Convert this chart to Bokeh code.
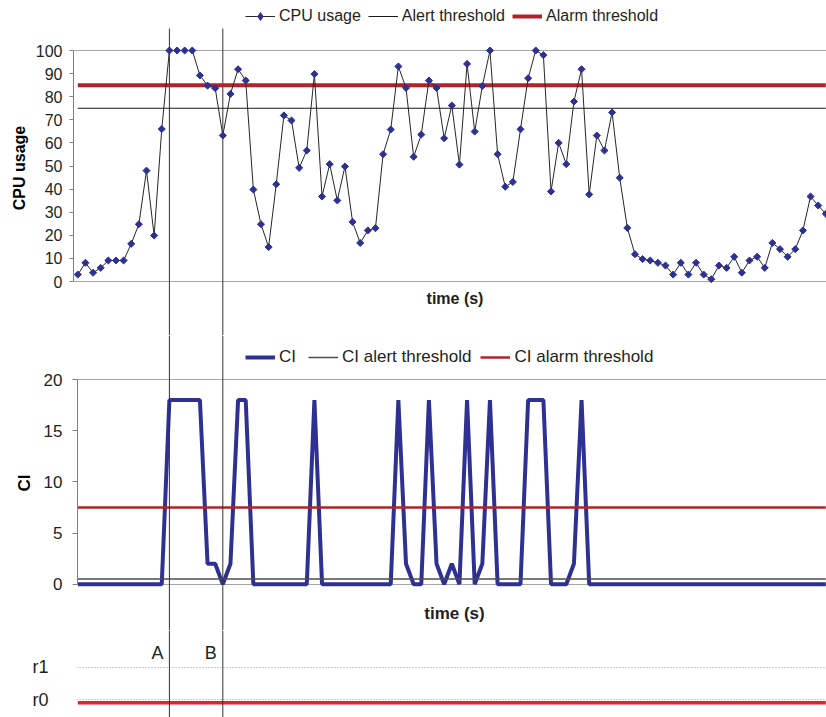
from math import pi
from bokeh.plotting import figure
from bokeh.models import Range1d, FixedTicker, Span, Label, Legend, LegendItem
from bokeh.layouts import column
from bokeh.embed import file_html
from bokeh.resources import INLINE

# ---------------- data ----------------
CPU_USAGE = [3.0, 8.1, 3.8, 5.9, 9.1, 9.1, 9.1, 16.3, 24.8, 48.0, 19.9, 66.0, 100, 100, 100, 100, 89.2, 84.8, 83.7, 63.2,
             81.2, 91.9, 87.0, 39.8, 24.8, 14.9, 42.1, 71.9, 69.7, 49.2, 56.7, 89.8, 36.8, 50.8, 35.1, 49.8, 25.8, 16.7, 22.1, 23.1,
             55.1, 65.8, 93.1, 83.8, 54.0, 63.6, 87.0, 83.8, 62.0, 76.2, 50.6, 94.2, 64.9, 84.6, 100, 55.1, 41.0, 43.1, 65.9, 88.0,
             100, 98.0, 39.0, 60.0, 50.8, 77.9, 91.9, 37.7, 63.2, 56.7, 73.2, 44.9, 23.2, 11.8, 9.7, 9.1, 8.1, 6.9, 3.0, 8.1,
             3.0, 8.1, 3.0, 1.0, 6.9, 5.9, 10.7, 3.8, 9.1, 10.7, 5.9, 16.7, 14.0, 10.7, 14.0, 22.1, 36.8, 32.9, 29.3]
CI = [0, 0, 0, 0, 0, 0, 0, 0, 0, 0, 0, 0, 18, 18, 18, 18, 18, 2, 2, 0,
      2, 18, 18, 0, 0, 0, 0, 0, 0, 0, 0, 18, 0, 0, 0, 0, 0, 0, 0, 0,
      0, 0, 18, 2, 0, 0, 18, 2, 0, 2, 0, 18, 0, 2, 18, 0, 0, 0, 0, 18,
      18, 18, 0, 0, 0, 2, 18, 0, 0, 0, 0, 0, 0, 0, 0, 0, 0, 0, 0, 0,
      0, 0, 0, 0, 0, 0, 0, 0, 0, 0, 0, 0, 0, 0, 0, 0, 0, 0, 0]
TIME = list(range(len(CPU_USAGE)))
STATE = ["r0"] * len(CPU_USAGE)
STATE_LEVELS = ["r0", "r1"]
EVENT_TIMES = [12, 19]
EVENT_NAMES = ["A", "B"]
CPU_TICKS = [0, 10, 20, 30, 40, 50, 60, 70, 80, 90, 100]
CI_TICKS = [0, 5, 10, 15, 20]
CPU_ALERT, CPU_ALARM = 75, 85
CI_ALERT, CI_ALARM = 0.5, 7.5

# ---------------- style / layout ----------------
FONT = "Liberation Sans"
TXT = "#231F20"
NAVY = "#2E3192"
DARKRED = "#B3222B"
RED = "#E8202A"
GRID = "#A6A6A6"
AXIS = "#7F7F7F"
VLINE = "#333333"

W = 826
RIGHT = 826
X_FIRST = 77.3
X_LAST = 825.3
STEP = (X_LAST - X_FIRST) / (len(TIME) - 1)


def x_at(px):
    return (px - X_FIRST) / STEP


def y_map(v0, p0, v1, p1):
    k = (p0 - p1) / (v1 - v0)
    return lambda px: v0 + (p0 - px) / k


def make_panel(height, left, top_px, bottom_px, fy, spans=True):
    p = figure(width=W, height=height,
               x_range=Range1d(x_at(left), x_at(RIGHT)),
               y_range=Range1d(fy(bottom_px), fy(top_px)),
               x_axis_location=None, toolbar_location=None, output_backend="svg",
               min_border_left=left, min_border_right=0,
               min_border_top=0, min_border_bottom=0)
    p.outline_line_color = None
    p.xgrid.grid_line_color = None
    p.background_fill_color = "white"
    p.border_fill_color = "white"
    if spans:
        for t in EVENT_TIMES:
            p.add_layout(Span(location=t, dimension="height", line_color=VLINE, line_width=1))
    return p


def style_axis(ax, ticks, bounds, size, tick_out, standoff, label, label_standoff):
    ax.ticker = FixedTicker(ticks=ticks)
    ax.bounds = bounds
    ax.axis_line_color = AXIS
    ax.major_tick_line_color = AXIS
    ax.major_tick_out = tick_out
    ax.major_tick_in = 0
    ax.minor_tick_line_color = None
    ax.major_label_text_font = FONT
    ax.major_label_text_font_size = size
    ax.major_label_text_color = TXT
    ax.major_label_standoff = standoff
    ax.axis_label = label
    ax.axis_label_text_font = FONT
    ax.axis_label_text_font_size = size
    ax.axis_label_text_font_style = "bold"
    ax.axis_label_text_color = "black"
    ax.axis_label_standoff = label_standoff


def make_legend(items, loc, size, spacing):
    lg = Legend(items=items, location=loc, orientation="horizontal")
    lg.glyph_width = 30
    lg.glyph_height = 20
    lg.label_height = 20
    lg.label_standoff = 4
    lg.spacing = spacing
    lg.padding = 0
    lg.margin = 0
    lg.border_line_color = None
    lg.background_fill_alpha = 0
    lg.inactive_fill_alpha = 0
    lg.label_text_font = FONT
    lg.label_text_font_size = size
    lg.label_text_color = TXT
    return lg


# ---------------- CPU panel ----------------
f1 = y_map(0, 281, 100, 50)
P1_TOP, P1_BOT = 0, 335
p1 = make_panel(P1_BOT - P1_TOP, 73, P1_TOP, P1_BOT, f1, spans=False)
style_axis(p1.yaxis[0], CPU_TICKS, (0, 100), "16px", 4, 7, "CPU usage", 5)
p1.ygrid.ticker = FixedTicker(ticks=[CPU_TICKS[0], CPU_TICKS[-1]])
p1.ygrid.grid_line_color = GRID
p1.segment(x0=EVENT_TIMES, y0=[f1(28)] * len(EVENT_TIMES),
           x1=EVENT_TIMES, y1=[f1(P1_BOT + 2)] * len(EVENT_TIMES),
           line_color=VLINE, line_width=1)

r_alert = p1.line([TIME[0], TIME[-1]], [CPU_ALERT, CPU_ALERT], line_color="#1A1A1A", line_width=1)
r_alarm = p1.line([TIME[0], TIME[-1]], [CPU_ALARM, CPU_ALARM], line_color=DARKRED, line_width=4)
r_cpu_l = p1.line(TIME, CPU_USAGE, line_color="#262626", line_width=1)
r_cpu_m = p1.scatter(TIME, CPU_USAGE, marker="square", size=5, angle=pi / 4,
                     fill_color=NAVY, line_color=NAVY, line_width=1)
# hidden twin used only for the legend key (legend keys ignore marker angle)
r_cpu_key = p1.scatter(TIME, CPU_USAGE, marker="diamond", size=9,
                       fill_color=NAVY, line_color=NAVY, line_width=1, visible=False)
lg1 = make_legend([LegendItem(label="CPU usage", renderers=[r_cpu_l, r_cpu_key]),
                   LegendItem(label="Alert threshold", renderers=[r_alert]),
                   LegendItem(label="Alarm threshold", renderers=[r_alarm])],
                  (245 - 73, (P1_BOT - P1_TOP) - 6 - 20), "16px", 7)
p1.add_layout(lg1, "center")
p1.add_layout(Label(x=x_at(454.5), y=f1(298), text="time (s)", text_font=FONT,
                    text_font_size="16px", text_font_style="bold", text_color=TXT,
                    text_align="center", text_baseline="middle"))

# ---------------- CI panel ----------------
f2 = y_map(0, 583.7, 20, 379)
P2_TOP, P2_BOT = 335, 630
p2 = make_panel(P2_BOT - P2_TOP, 77, P2_TOP, P2_BOT, f2)
style_axis(p2.yaxis[0], CI_TICKS, (0, 20), "17px", 5, 10, "CI", 7)
p2.ygrid.ticker = FixedTicker(ticks=[CI_TICKS[0], CI_TICKS[-1]])
p2.ygrid.grid_line_color = GRID

r_ci = p2.line(TIME, CI, line_color=NAVY, line_width=4)
r_ci_alert = p2.line([TIME[0], TIME[-1]], [CI_ALERT, CI_ALERT], line_color="#4D4D4D", line_width=1.5)
r_ci_alarm = p2.line([TIME[0], TIME[-1]], [CI_ALARM, CI_ALARM], line_color=DARKRED, line_width=2.5)
lg2 = make_legend([LegendItem(label="CI", renderers=[r_ci]),
                   LegendItem(label="CI alert threshold", renderers=[r_ci_alert]),
                   LegendItem(label="CI alarm threshold", renderers=[r_ci_alarm])],
                  (245 - 77, (P2_BOT - P2_TOP) - 12 - 20), "17px", 9)
p2.add_layout(lg2, "center")
p2.add_layout(Label(x=x_at(454), y=f2(613), text="time (s)", text_font=FONT,
                    text_font_size="17px", text_font_style="bold", text_color=TXT,
                    text_align="center", text_baseline="middle"))

# ---------------- state panel ----------------
f3 = y_map(0, 699.3, 1, 666.7)
P3_TOP, P3_BOT = 630, 717
p3 = make_panel(P3_BOT - P3_TOP, 76, P3_TOP, P3_BOT, f3)
ax3 = p3.yaxis[0]
ax3.ticker = FixedTicker(ticks=list(range(len(STATE_LEVELS))))
ax3.major_label_overrides = {i: s for i, s in enumerate(STATE_LEVELS)}
ax3.axis_line_color = None
ax3.major_tick_line_color = None
ax3.major_tick_out = 0
ax3.major_tick_in = 0
ax3.minor_tick_line_color = None
ax3.major_label_standoff = 28
ax3.major_label_text_font = FONT
ax3.major_label_text_font_size = "18px"
ax3.major_label_text_color = TXT
p3.ygrid.ticker = FixedTicker(ticks=list(range(len(STATE_LEVELS))))
p3.ygrid.grid_line_color = "#9A9A9A"
p3.ygrid.grid_line_dash = "1 2"
p3.ygrid.grid_line_width = 1

offset = f3(699.3) - f3(702.3)
p3.line(TIME, [STATE_LEVELS.index(s) - offset for s in STATE], line_color=RED, line_width=3.5)
for t, name in zip(EVENT_TIMES, EVENT_NAMES):
    p3.add_layout(Label(x=t, y=f3(652.5), x_offset=-6, text=name, text_font=FONT,
                        text_font_size="18px", text_color=TXT,
                        text_align="right", text_baseline="middle"))

# each panel wrapped on its own so that the outer column does not align their frames
layout = column(column(p1), column(p2), column(p3), spacing=0)
open("out.html", "w").write(file_html(layout, INLINE))
